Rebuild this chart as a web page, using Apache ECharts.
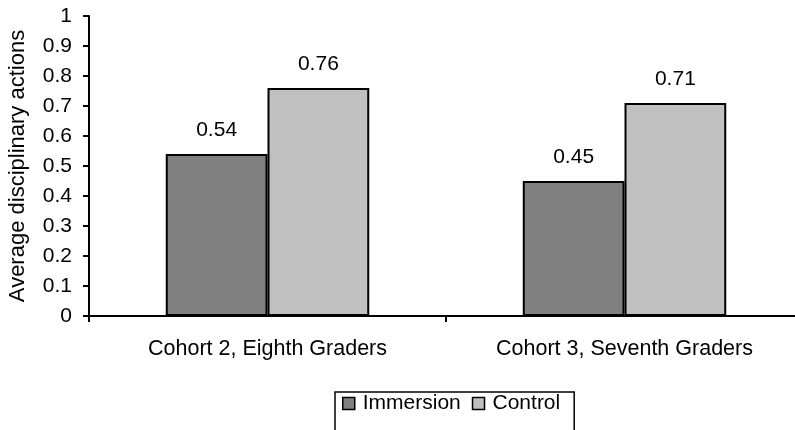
<!DOCTYPE html>
<html>
<head>
<meta charset="utf-8">
<script src="https://cdn.jsdelivr.net/npm/echarts@6/dist/echarts.min.js"></script>
<style>html,body{margin:0;padding:0;background:#fff}#c{width:795px;height:430px}</style>
</head>
<body>
<div id="c"></div>
<script>
const categories = ['Cohort 2, Eighth Graders', 'Cohort 3, Seventh Graders'];
const immersion = [0.54, 0.45];
const control = [0.76, 0.71];
const yTicks = { min: 0, max: 1, interval: 0.1 };

const FONT = 'Liberation Sans, Arial, sans-serif';
const chart = echarts.init(document.getElementById('c'));
const labelOpt = {
  show: true, position: 'top', distance: 13,
  fontFamily: FONT, fontSize: 21, color: '#000',
  formatter: p => String(p.value)
};
chart.setOption({
  animation: false,
  backgroundColor: '#fff',
  grid: { left: 89, top: 16, width: 714, height: 300, containLabel: false, outerBoundsMode: 'none' },
  xAxis: {
    type: 'category', data: categories, boundaryGap: true,
    axisLine: { lineStyle: { color: '#000', width: 2 } },
    axisTick: { show: true, length: 6, lineStyle: { color: '#000', width: 2 } },
    axisLabel: { margin: 22, fontFamily: FONT, fontSize: 21.5, color: '#000' },
    splitLine: { show: false }
  },
  yAxis: {
    type: 'value', min: yTicks.min, max: yTicks.max, interval: yTicks.interval,
    name: 'Average disciplinary actions', nameLocation: 'middle', nameGap: 60,
    nameTextStyle: { fontFamily: FONT, fontSize: 22, color: '#000' },
    axisLine: { show: true, lineStyle: { color: '#000', width: 2 } },
    axisTick: { show: true, length: 6, lineStyle: { color: '#000', width: 2 } },
    axisLabel: { margin: 17, fontFamily: FONT, fontSize: 21, color: '#000',
      formatter: v => String(Math.round(v * 10) / 10) },
    splitLine: { show: false }
  },
  legend: {
    left: 335, top: 392,
    data: ['Immersion', 'Control'],
    icon: 'rect', itemWidth: 12, itemHeight: 12, itemGap: 11,
    padding: [1, 14, 30, 7],
    borderColor: '#000', borderWidth: 1.5, borderRadius: 0,
    textStyle: { fontFamily: FONT, fontSize: 21, color: '#000', padding: [0, 0, 0, 3] },
    itemStyle: { borderColor: '#000', borderWidth: 1.5 }
  },
  series: [
    { name: 'Immersion', type: 'bar', data: immersion, barGap: '0%', barCategoryGap: '43%',
      itemStyle: { color: '#808080', borderColor: '#000', borderWidth: 2 }, label: labelOpt },
    { name: 'Control', type: 'bar', data: control, barGap: '0%', barCategoryGap: '43%',
      itemStyle: { color: '#c0c0c0', borderColor: '#000', borderWidth: 2 }, label: labelOpt }
  ]
});
</script>
</body>
</html>
